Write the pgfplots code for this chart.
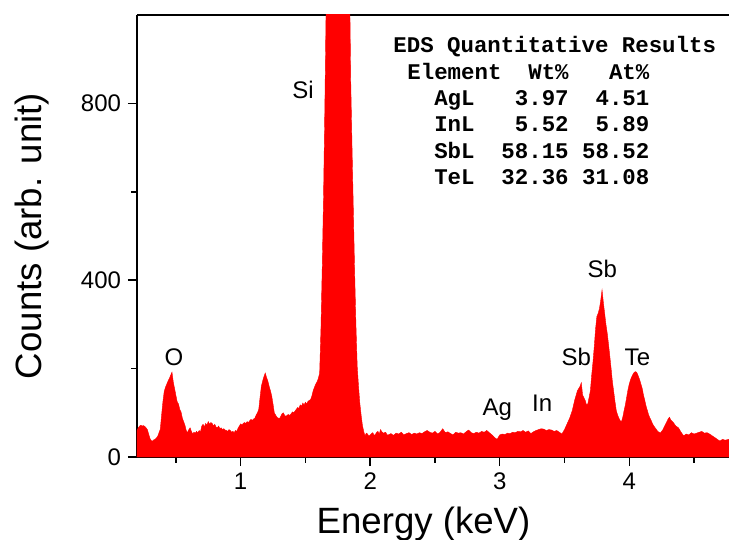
\documentclass[border=0pt]{standalone}
\usepackage{fontspec}
\setmainfont{Liberation Sans}
\newfontfamily\monofam{Liberation Mono}
\usepackage{pgfplots}
\pgfplotsset{compat=1.18}
\newcommand\X{\hphantom{0}}
\begin{document}
\begin{tikzpicture}
\begin{axis}[
 scale only axis, width=296bp, height=221bp,
 xmin=0.2, xmax=4.77, ymin=0, ymax=1000,
 axis x line*=box, axis y line*=left,
 xtick={1,2,3,4}, minor xtick={0.5,1.5,2.5,3.5,4.5},
 ytick={0,400,800}, minor ytick={200,600},
 xtick pos=bottom, ytick pos=left,
 tick align=outside,
 major tick length=4.5bp, minor tick length=2.8bp,
 tick style={black, line width=0.75bp},
 axis line style={black, line width=0.75bp},
 ticklabel style={font=\fontsize{12bp}{14bp}\selectfont},
 /pgf/number format/assume math mode=true,
 xlabel={Energy (keV)}, ylabel={Counts (arb. unit)},
 label style={font=\fontsize{18.3bp}{20bp}\selectfont},
 xlabel style={at={(axis description cs:0.484,-0.172)}, anchor=base},
 ylabel style={at={(axis description cs:-0.1605,0.5)}, anchor=base},
]
\addplot[draw=red, fill=red, line width=0.2pt] table {
x y
0.20 60
0.21 66
0.22 70
0.23 72
0.24 70
0.25 71
0.26 69
0.27 66
0.28 62
0.29 52
0.30 42
0.31 37
0.32 36
0.33 39
0.34 40
0.35 43
0.36 47
0.37 55
0.38 63
0.39 95
0.40 125
0.41 148
0.42 158
0.43 165
0.44 172
0.45 178
0.46 185
0.47 192
0.48 170
0.49 155
0.50 140
0.51 125
0.52 120
0.53 108
0.54 102
0.55 88
0.56 80
0.57 72
0.58 60
0.59 55
0.60 62
0.61 66
0.62 58
0.63 52
0.64 56
0.65 54
0.66 58
0.67 55
0.68 60
0.69 57
0.70 70
0.71 74
0.72 68
0.73 76
0.74 72
0.75 80
0.76 74
0.77 78
0.78 76
0.79 70
0.80 74
0.81 68
0.82 66
0.83 70
0.84 64
0.85 66
0.86 62
0.87 64
0.88 61
0.89 60
0.90 58
0.91 62
0.92 60
0.93 56
0.94 58
0.95 55
0.96 60
0.97 58
0.98 65
0.99 70
1.00 75
1.01 72
1.02 76
1.03 78
1.04 76
1.05 80
1.06 78
1.07 82
1.08 85
1.09 83
1.10 86
1.11 88
1.12 95
1.13 100
1.14 108
1.15 135
1.16 160
1.17 172
1.18 182
1.19 190
1.20 180
1.21 172
1.22 160
1.23 150
1.24 138
1.25 120
1.26 100
1.27 95
1.28 90
1.29 88
1.30 87
1.31 92
1.32 98
1.33 100
1.34 94
1.35 92
1.36 95
1.37 96
1.38 94
1.39 98
1.40 102
1.41 100
1.42 104
1.43 108
1.44 112
1.45 110
1.46 118
1.47 115
1.48 122
1.49 118
1.50 124
1.51 120
1.52 126
1.53 128
1.54 130
1.55 138
1.56 150
1.57 158
1.58 165
1.59 170
1.60 178
1.61 190
1.62 290
1.63 430
1.64 590
1.65 790
1.66 1020
1.68 1600
1.71 2600
1.74 3100
1.77 2900
1.80 2100
1.83 1400
1.84 1100
1.85 850
1.86 700
1.87 560
1.88 420
1.89 300
1.90 205
1.91 160
1.92 122
1.93 95
1.94 72
1.95 58
1.96 48
1.97 54
1.98 52
1.99 47
2.00 50
2.01 53
2.02 55
2.03 49
2.04 51
2.05 56
2.06 58
2.07 52
2.08 62
2.09 57
2.10 54
2.12 56
2.13 50
2.14 50
2.16 53
2.18 49
2.20 54
2.22 52
2.24 56
2.26 50
2.28 53
2.30 55
2.32 51
2.34 54
2.36 52
2.38 55
2.40 53
2.42 57
2.44 60
2.46 56
2.48 54
2.50 58
2.52 52
2.54 56
2.56 64
2.58 55
2.60 57
2.62 53
2.64 50
2.66 56
2.68 54
2.70 55
2.72 52
2.74 57
2.76 61
2.78 55
2.80 53
2.82 56
2.84 54
2.86 58
2.88 56
2.90 60
2.92 55
2.94 50
2.96 44
2.98 40
3.00 50
3.02 52
3.04 51
3.06 54
3.08 53
3.10 56
3.12 55
3.14 58
3.16 57
3.18 60
3.20 56
3.22 59
3.24 53
3.26 57
3.28 60
3.30 62
3.32 64
3.34 63
3.36 60
3.38 62
3.40 61
3.42 58
3.44 60
3.46 56
3.48 52
3.50 62
3.52 75
3.54 88
3.56 105
3.58 130
3.60 150
3.62 160
3.63 168
3.64 140
3.66 128
3.67 118
3.68 120
3.70 150
3.71 185
3.72 215
3.73 250
3.74 290
3.75 318
3.76 325
3.77 336
3.78 355
3.79 378
3.80 350
3.81 325
3.82 300
3.83 280
3.84 255
3.85 228
3.86 200
3.87 170
3.88 148
3.89 125
3.90 105
3.91 95
3.92 88
3.93 82
3.94 80
3.95 90
3.96 105
3.97 118
3.98 135
3.99 152
4.00 165
4.01 175
4.02 182
4.03 188
4.04 192
4.05 193
4.06 190
4.07 183
4.08 175
4.09 165
4.10 155
4.11 140
4.12 128
4.13 115
4.14 105
4.15 95
4.16 88
4.17 82
4.18 75
4.19 70
4.20 66
4.22 58
4.24 54
4.26 62
4.28 74
4.30 86
4.31 90
4.32 84
4.34 78
4.36 70
4.38 66
4.40 56
4.42 48
4.44 52
4.46 50
4.48 55
4.50 52
4.52 54
4.54 56
4.56 58
4.58 54
4.60 55
4.62 52
4.64 48
4.66 44
4.68 40
4.70 36
4.72 40
4.74 38
4.77 40
} \closedcycle;
\coordinate (bl) at (rel axis cs:0,0);
\coordinate (tr) at (rel axis cs:1,1);
\begin{scope}[every node/.style={anchor=base, inner sep=0pt, font=\fontsize{12bp}{14bp}\selectfont}]
\node at (axis cs:1.481,811) {Si};
\node at (axis cs:0.485,208) {O};
\node at (axis cs:2.981,95) {Ag};
\node at (axis cs:3.328,102) {In};
\node at (axis cs:3.591,208) {Sb};
\node at (axis cs:3.792,405) {Sb};
\node at (axis cs:4.063,208) {Te};
\end{scope}
\end{axis}
\begin{scope}[shift={(bl)}, every node/.style={anchor=base west, inner sep=0pt, font=\monofam\bfseries\fontsize{11.2bp}{13bp}\selectfont}]
\node at (128bp,202bp) {EDS Quantitative Results};
\node at (135bp,188.85bp) {Element\X\X Wt\%\X\X\X At\%};
\node at (135bp,175.7bp) {\X\X AgL\X\X\X 3.97\X\X 4.51};
\node at (135bp,162.55bp) {\X\X InL\X\X\X 5.52\X\X 5.89};
\node at (135bp,149.4bp) {\X\X SbL\X\X 58.15\X 58.52};
\node at (135bp,136.25bp) {\X\X TeL\X\X 32.36\X 31.08};
\end{scope}
\pgfresetboundingbox
\path[use as bounding box] ([xshift=-68.5bp,yshift=-41.5bp]bl) rectangle ([yshift=7.5bp]tr);
\end{tikzpicture}
\end{document}
